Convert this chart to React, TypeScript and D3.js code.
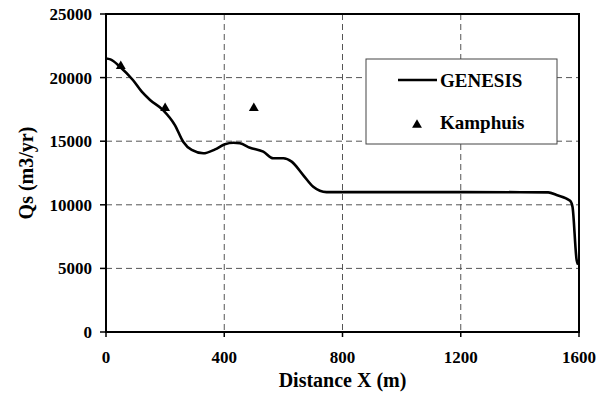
import React from 'react';
import * as d3 from 'd3';

// GENESIS model curve (distance m, Qs m3/yr)
const genesisX = [0, 15, 47, 91, 121, 149, 193, 233, 261, 290, 329, 369, 402, 431, 453, 487, 532, 566, 600, 628, 667, 701, 746, 800, 1200, 1496, 1524, 1570, 1578, 1592, 1597];
const genesisY = [21500, 21430, 20860, 19810, 18890, 18240, 17450, 16270, 14960, 14310, 14050, 14360, 14760, 14880, 14835, 14490, 14175, 13655, 13655, 13390, 12340, 11420, 11000, 11000, 11000, 10980, 10770, 10320, 9850, 5660, 5300];

// Kamphuis estimates
const kamphuisX = [50, 200, 500];
const kamphuisY = [20900, 17600, 17600];

const xTicks = [0, 400, 800, 1200, 1600];
const yTicks = [0, 5000, 10000, 15000, 20000, 25000];

const W = 608;
const H = 394;
const margin = { top: 14, right: 29, bottom: 62, left: 106 };
const font = '"Liberation Serif", "Times New Roman", serif';

const App = () => {
  const x = d3.scaleLinear().domain([0, 1600]).range([margin.left, W - margin.right]);
  const y = d3.scaleLinear().domain([0, 25000]).range([H - margin.bottom, margin.top]);

  const genesis = genesisX.map((d, i) => [d, genesisY[i]] as [number, number]);
  const line = d3.line<[number, number]>()
    .x(d => x(d[0]))
    .y(d => y(d[1]))
    .curve(d3.curveMonotoneX);

  const tri = d3.symbol().type(d3.symbolTriangle).size(42)();

  const x0 = x(0), x1 = x(1600), y0 = y(0), y1 = y(25000);
  const lg = { x: 366, y: 59, w: 191, h: 85 };

  return (
    <svg width={W} height={H} style={{ position: 'absolute', left: 0, top: 0, background: '#fff' }}
      fontFamily={font} fontWeight="bold">
      {/* grid */}
      {xTicks.slice(1, -1).map(t => (
        <line key={'gx' + t} x1={x(t)} x2={x(t)} y1={y1} y2={y0}
          stroke="#555" strokeWidth={1} strokeDasharray="6,4" />
      ))}
      {yTicks.slice(1, -1).map(t => (
        <line key={'gy' + t} x1={x0} x2={x1} y1={y(t)} y2={y(t)}
          stroke="#555" strokeWidth={1} strokeDasharray="6,4" />
      ))}

      {/* frame */}
      <rect x={x0} y={y1} width={x1 - x0} height={y0 - y1} fill="none" stroke="#000" strokeWidth={2} />

      {/* ticks */}
      {yTicks.map(t => (
        <g key={'ty' + t}>
          <line x1={x0 - 6} x2={x0} y1={y(t)} y2={y(t)} stroke="#000" strokeWidth={1.5} />
          <text x={x0 - 14} y={y(t)} dy="0.35em" textAnchor="end" fontSize={17}>{t}</text>
        </g>
      ))}
      {xTicks.map(t => (
        <g key={'tx' + t}>
          <line x1={x(t)} x2={x(t)} y1={y0} y2={y0 + 5} stroke="#000" strokeWidth={1.5} />
          <text x={x(t)} y={363} textAnchor="middle" fontSize={17}>{t}</text>
        </g>
      ))}

      {/* axis titles */}
      <text x={(x0 + x1) / 2} y={387} textAnchor="middle" fontSize={20}>Distance X (m)</text>
      <text transform={`translate(33,${(y0 + y1) / 2}) rotate(-90)`} textAnchor="middle" fontSize={20}>Qs (m3/yr)</text>

      {/* series */}
      <path d={line(genesis) || ''} fill="none" stroke="#000" strokeWidth={2.6} strokeLinejoin="round" />
      {kamphuisX.map((d, i) => (
        <path key={'k' + i} d={tri || ''} transform={`translate(${x(d)},${y(kamphuisY[i])})`} fill="#000" />
      ))}

      {/* legend */}
      <rect x={lg.x} y={lg.y} width={lg.w} height={lg.h} fill="#fff" stroke="#444" strokeWidth={1} />
      <line x1={398} x2={437} y1={80} y2={80} stroke="#000" strokeWidth={2.6} />
      <text x={440} y={87} fontSize={19}>GENESIS</text>
      <path d={tri || ''} transform="translate(417,125)" fill="#000" />
      <text x={440} y={129} fontSize={19}>Kamphuis</text>
    </svg>
  );
};

export default App;
